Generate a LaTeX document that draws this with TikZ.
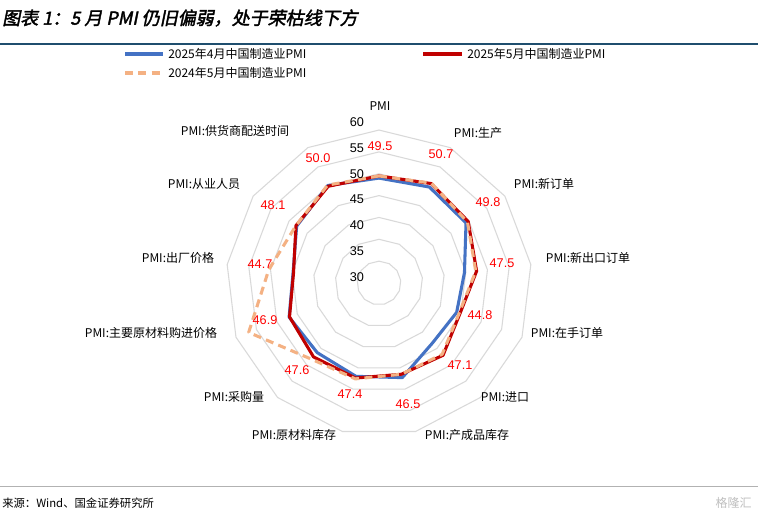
\documentclass[tikz,border=0pt]{standalone}
\usepackage{fontspec}
\setmainfont{Liberation Sans}
\newfontfamily\cjk{Noto Sans CJK SC}
\newfontfamily\titlefont{Noto Sans CJK SC}[FakeSlant=0.2,FakeBold=2]
\definecolor{cblue}{HTML}{4472C4}
\definecolor{cred}{HTML}{C00000}
\definecolor{corange}{HTML}{F4B183}
\definecolor{cgrid}{HTML}{D9D9D9}
\definecolor{cteal}{HTML}{1F4E6E}
\definecolor{clab}{HTML}{FF0000}
\begin{document}
\begin{tikzpicture}[x=0.75pt,y=-0.75pt,
  cat/.style={font=\cjk\fontsize{9}{10}\selectfont,inner sep=0pt},
  val/.style={font=\fontsize{9.5}{10}\selectfont,text=clab,inner sep=0pt},
  axl/.style={font=\fontsize{9.5}{10}\selectfont,inner sep=0pt},
  leg/.style={font=\cjk\fontsize{9}{10}\selectfont,anchor=west,inner sep=0pt},
  ser/.style={line width=2.3pt,line join=round}]
\useasboundingbox (0,0) rectangle (758,516);
\fill[white] (0,0) rectangle (758,516);
\node[anchor=west,inner sep=0pt,font=\titlefont\fontsize{13.5}{15}\selectfont] (title) at (2,18) {图表 1：5 月 PMI 仍旧偏弱，处于荣枯线下方};
\draw[cteal,line width=1.2pt] (0,44) -- (758,44);
\draw[gray!60,line width=0.6pt] (0,486) -- (758,486);
\node[anchor=west,inner sep=0pt,font=\cjk\fontsize{8.5}{10}\selectfont] (src) at (2,503) {来源：Wind、国金证券研究所};
\node[anchor=east,inner sep=0pt,font=\cjk\fontsize{9}{10}\selectfont,text=gray!50] (wm) at (752,503) {格隆汇};
\begin{scope}[shift={(379,283)}]
\foreach \v in {30,35,...,60}{
  \draw[cgrid,line width=0.8pt] (-90:{(\v-25)*4.37}) \foreach \i in {1,...,12}{ -- ({\i*360/13-90}:{(\v-25)*4.37}) } -- cycle;
}
\def\series#1#2{(-90:{(#1-25)*4.37}) \foreach [count=\i from 1] \v in {#2}{ -- ({\i*360/13-90}:{(\v-25)*4.37}) } -- cycle}
\draw[ser,cblue] \series{49.0}{49.8,49.2,44.7,44.0,43.4,47.3,47.0,46.3,47.0,44.8,47.9,50.2};
\draw[ser,cred] \series{49.5}{50.7,49.8,47.5,44.8,47.1,46.5,47.4,47.6,46.9,44.7,48.1,50.0};
\draw[ser,corange,dash pattern=on 6pt off 4pt] \series{49.5}{50.8,49.6,47.3,44.6,46.8,46.5,47.6,48.3,56.9,50.4,48.1,50.3};
\end{scope}
\foreach \v/\y in {60/122,55/148,50/174,45/199,40/225,35/251,30/277}{
  \node[axl] (ax\v) at (357,\y) {\v};
}
\node[cat] (c0) at (380,106) {PMI};
\node[cat] (c1) at (478,133) {PMI:生产};
\node[cat] (c2) at (544,184) {PMI:新订单};
\node[cat] (c3) at (588,258) {PMI:新出口订单};
\node[cat] (c4) at (567,333) {PMI:在手订单};
\node[cat] (c5) at (505,397) {PMI:进口};
\node[cat] (c6) at (467,435) {PMI:产成品库存};
\node[cat] (c7) at (294,435) {PMI:原材料库存};
\node[cat] (c8) at (234,397) {PMI:采购量};
\node[cat] (c9) at (151,333) {PMI:主要原材料购进价格};
\node[cat] (c10) at (178,258) {PMI:出厂价格};
\node[cat] (c11) at (204,184) {PMI:从业人员};
\node[cat] (c12) at (235,131) {PMI:供货商配送时间};
\node[val] (v0) at (380,146) {49.5};
\node[val] (v1) at (441,154) {50.7};
\node[val] (v2) at (488,202) {49.8};
\node[val] (v3) at (502,263) {47.5};
\node[val] (v4) at (480,315) {44.8};
\node[val] (v5) at (460,365) {47.1};
\node[val] (v6) at (408,404) {46.5};
\node[val] (v7) at (350,394) {47.4};
\node[val] (v8) at (297,370) {47.6};
\node[val] (v9) at (265,320) {46.9};
\node[val] (v10) at (260,264) {44.7};
\node[val] (v11) at (273,205) {48.1};
\node[val] (v12) at (318,158) {50.0};
\coordinate (l1a) at (125,54); \coordinate (l1b) at (163,54);
\draw[cblue,line width=2.3pt] (l1a) -- (l1b);
\node[leg] (t1) at (168,54) {2025年4月中国制造业PMI};
\coordinate (l2a) at (423,54); \coordinate (l2b) at (462,54);
\draw[cred,line width=2.3pt] (l2a) -- (l2b);
\node[leg] (t2) at (467,54) {2025年5月中国制造业PMI};
\coordinate (l3a) at (125,73); \coordinate (l3b) at (163,73);
\draw[corange,line width=2.3pt,dash pattern=on 6pt off 4pt] (l3a) -- (l3b);
\node[leg] (t3) at (168,73) {2024年5月中国制造业PMI};
\end{tikzpicture}
\end{document}
